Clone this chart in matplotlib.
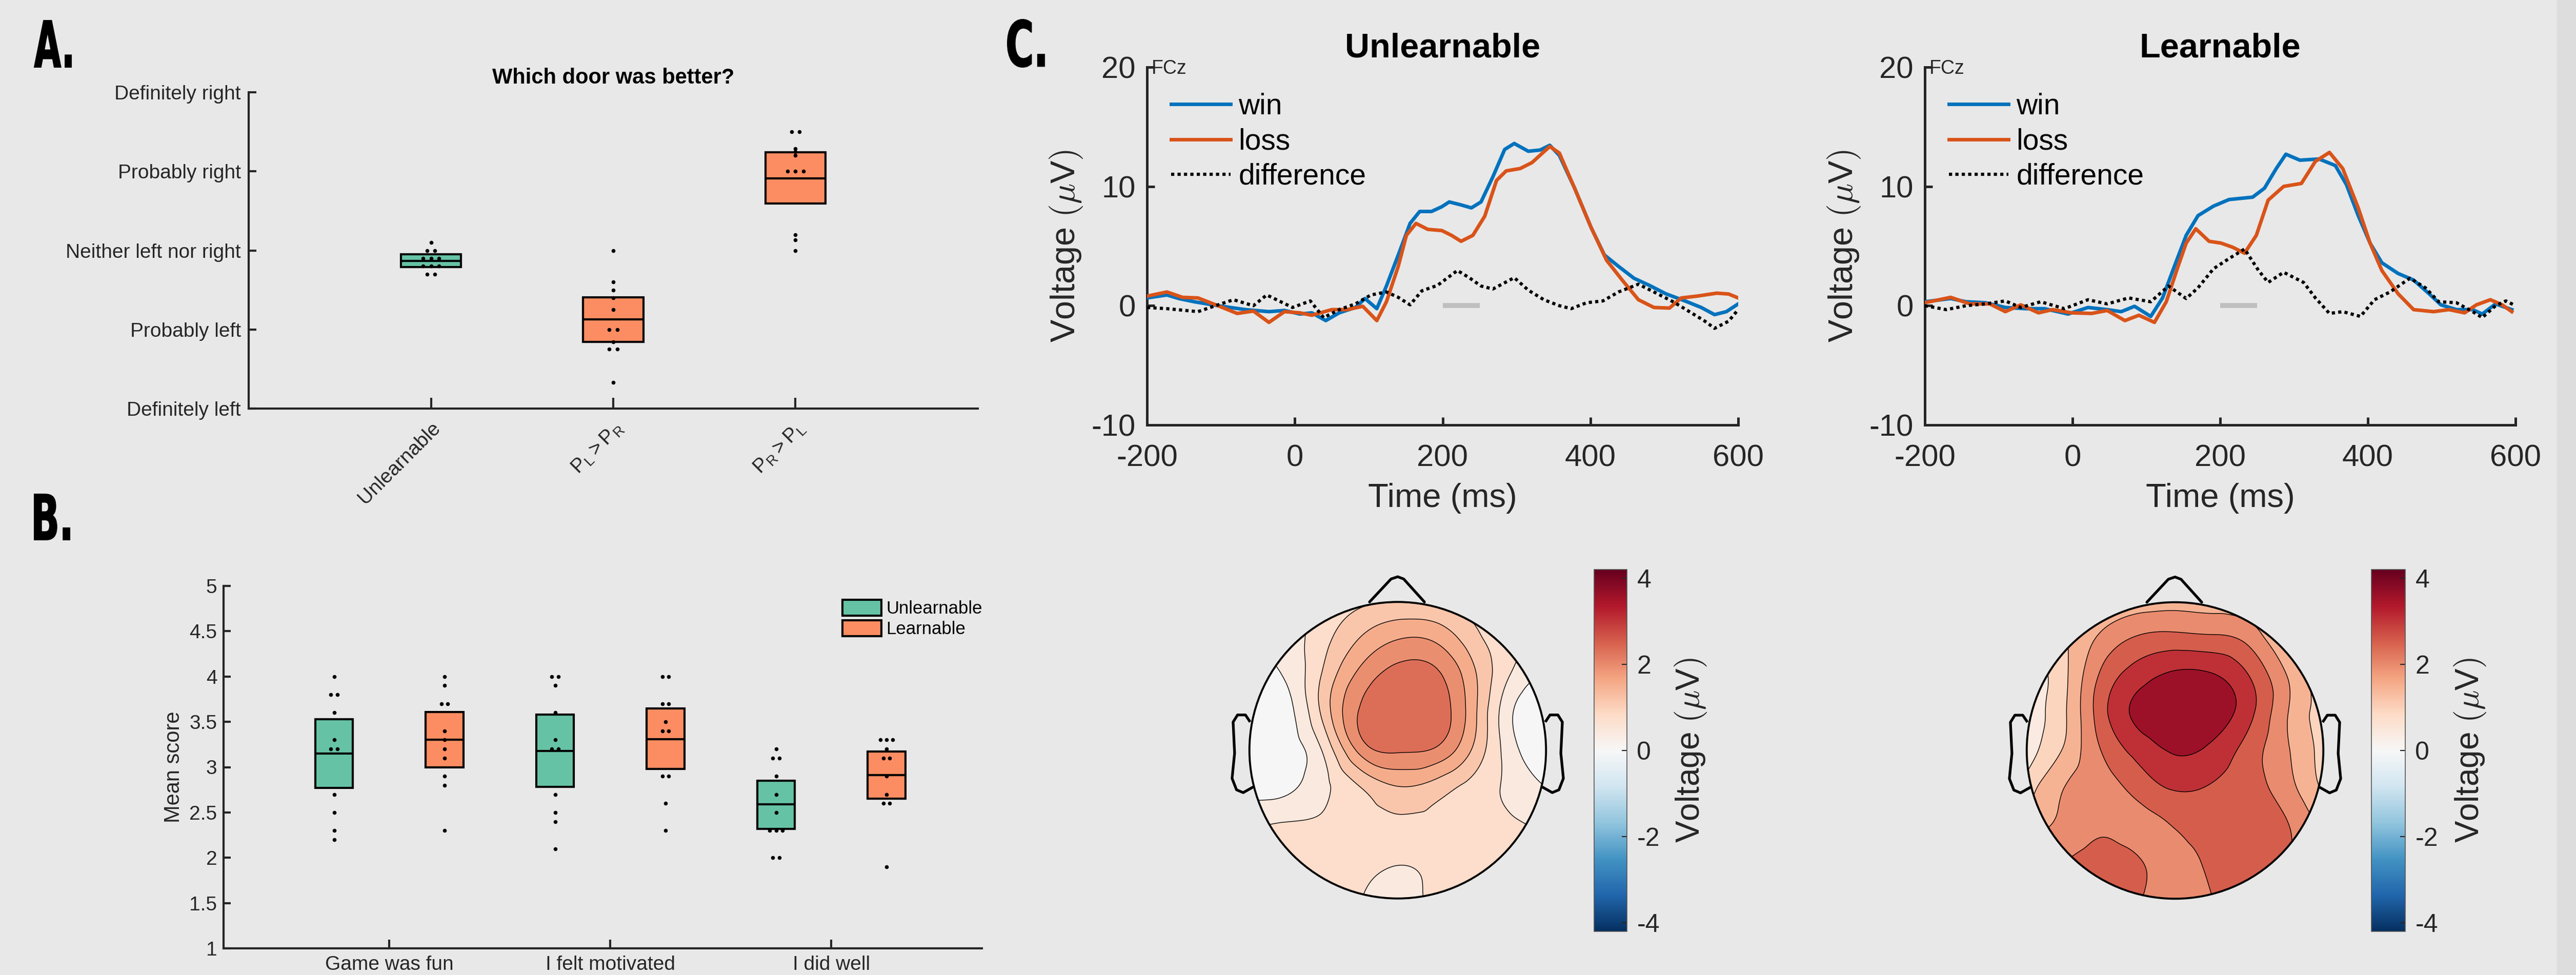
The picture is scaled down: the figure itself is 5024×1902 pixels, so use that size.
import numpy as np
import matplotlib
matplotlib.use('Agg')
import matplotlib.pyplot as plt
from matplotlib.tri import Triangulation, UniformTriRefiner
from matplotlib.patches import Circle, Rectangle, Patch, PathPatch
from matplotlib.colors import Normalize
from matplotlib.cm import ScalarMappable
from matplotlib.textpath import TextPath
from matplotlib.font_manager import FontProperties
from matplotlib.transforms import Affine2D

W, H = 5024, 1902
plt.rcParams['font.family'] = ['Liberation Sans', 'DejaVu Sans']
plt.rcParams['mathtext.fontset'] = 'cm'
plt.rcParams['axes.unicode_minus'] = False

BG = '#e8e8e8'
INK = '#262626'
TEAL = '#66c2a5'
ORANGE = '#fc8d62'
WIN_C = '#0072bd'
LOSS_C = '#d95319'

# ---------------- panel A : which door was better ----------------
catA = ['Unlearnable', r'$\mathregular{P_L > P_R}$', r'$\mathregular{P_R > P_L}$']
ytickA = ['Definitely left', 'Probably left', 'Neither left nor right', 'Probably right', 'Definitely right']
meanA = [2.87, 2.13, 3.91]
loA = [2.79, 1.84, 3.59]
hiA = [2.95, 2.41, 4.24]
dotsA = [
    [3.1, 3.0, 3.0, 2.9, 2.9, 2.9, 2.8, 2.8, 2.8, 2.7, 2.7],
    [3.0, 2.6, 2.5, 2.4, 2.25, 2.0, 2.0, 1.84, 1.75, 1.75, 1.33],
    [4.5, 4.5, 4.29, 4.25, 4.2, 4.0, 4.0, 4.0, 3.2, 3.13, 3.0],
]

# ---------------- panel B : questionnaire ----------------
catB = ['Game was fun', 'I felt motivated', 'I did well']
meanB_unl = [3.15, 3.18, 2.59]
loB_unl = [2.77, 2.78, 2.32]
hiB_unl = [3.53, 3.58, 2.85]
meanB_lrn = [3.30, 3.31, 2.91]
loB_lrn = [3.00, 2.98, 2.65]
hiB_lrn = [3.61, 3.65, 3.17]
dotsB_unl = [
    [4.0, 3.8, 3.8, 3.6, 3.3, 3.2, 3.2, 2.7, 2.5, 2.3, 2.2],
    [4.0, 4.0, 3.9, 3.6, 3.3, 3.2, 3.2, 2.7, 2.5, 2.4, 2.1],
    [3.2, 3.1, 3.1, 2.9, 2.7, 2.5, 2.3, 2.3, 2.3, 2.0, 2.0],
]
dotsB_lrn = [
    [4.0, 3.9, 3.7, 3.7, 3.4, 3.3, 3.2, 3.1, 2.9, 2.8, 2.3],
    [4.0, 4.0, 3.7, 3.7, 3.5, 3.4, 3.4, 2.9, 2.9, 2.6, 2.3],
    [3.3, 3.3, 3.3, 3.2, 3.1, 3.1, 2.9, 2.7, 2.6, 2.6, 1.9],
]

# ---------------- panel C : ERPs at FCz ----------------
unl_win_t = [-200, -173, -157, -136, -104, -67, -35, -14, 7, 23, 42, 60, 82, 95, 111, 124, 140, 156, 169, 185,
             199, 209, 225, 239, 252, 268, 284, 297, 316, 332, 345, 358, 379, 401, 419, 438, 459, 480, 502, 528,
             550, 568, 584, 600]
unl_win_v = [0.65, 0.9, 0.6, 0.33, 0, -0.33, -0.5, -0.4, -0.7, -0.6, -1.25, -0.6, -0.15, 0.6, -0.25, 1.65, 4.25,
             6.9, 7.9, 7.9, 8.3, 8.7, 8.45, 8.2, 8.7, 10.8, 13.1, 13.6, 12.95, 13.05, 13.45, 12.6, 9.8, 6.55, 4.25,
             3.3, 2.3, 1.7, 1.0, 0.4, -0.15, -0.75, -0.5, 0.15]
unl_loss_t = [-200, -173, -152, -131, -104, -78, -56, -35, -14, 7, 23, 50, 71, 92, 111, 124, 140, 151, 164, 180,
              199, 212, 225, 241, 257, 273, 286, 305, 321, 345, 358, 379, 401, 422, 443, 465, 486, 507, 523, 544,
              571, 587, 600]
unl_loss_v = [0.8, 1.15, 0.7, 0.65, 0, -0.65, -0.45, -1.4, -0.5, -0.6, -0.8, -0.33, -0.33, -0.05, -1.25, 0.33,
              3.3, 5.9, 6.9, 6.4, 6.3, 5.9, 5.4, 5.9, 7.5, 10.5, 11.3, 11.5, 12.0, 13.35, 12.8, 9.8, 6.55, 3.8,
              2.15, 0.5, -0.15, -0.2, 0.65, 0.8, 1.05, 0.98, 0.65]
unl_diff_t = [-200, -173, -131, -104, -83, -56, -38, -19, -3, 21, 39, 60, 82, 103, 124, 140, 156, 172, 193, 220,
              236, 252, 268, 297, 316, 337, 358, 374, 395, 417, 438, 465, 486, 512, 534, 555, 568, 587, 600]
unl_diff_v = [-0.15, -0.25, -0.5, 0.07, 0.5, 0, 0.9, 0.33, -0.15, 0.4, -1.0, -0.33, 0.15, 0.9, 1.15, 0.7, 0.07,
              1.25, 1.7, 2.95, 2.35, 1.65, 1.4, 2.35, 1.3, 0.5, 0, -0.25, 0.25, 0.4, 1.15, 1.8, 1.15, 0.33, -0.5,
              -1.3, -1.9, -1.3, -0.33]

lrn_win_t = [-200, -165, -144, -118, -91, -64, -38, -6, 21, 47, 66, 84, 106, 122, 138, 154, 170, 191, 212, 244,
             260, 276, 289, 308, 334, 356, 371, 387, 403, 419, 441, 462, 483, 499, 520, 542, 555, 573, 595]
lrn_win_v = [0.33, 0.6, 0.33, 0.25, -0.15, -0.25, -0.25, -0.7, -0.15, -0.33, -0.5, -0.05, -0.9, 0.65, 3.3, 5.9,
             7.55, 8.35, 8.9, 9.1, 9.85, 11.5, 12.7, 12.2, 12.3, 11.75, 10.15, 7.55, 5.25, 3.6, 2.7, 2.15, 1.0,
             0.07, -0.33, -0.33, -0.7, 0.15, -0.33]
lrn_loss_t = [-200, -165, -139, -112, -91, -70, -46, -27, -1, 26, 47, 71, 90, 111, 127, 143, 154, 167, 185, 201,
              217, 233, 249, 265, 286, 310, 329, 348, 366, 387, 403, 419, 441, 462, 489, 510, 531, 547, 566, 582,
              595]
lrn_loss_v = [0.25, 0.7, 0.15, 0.15, -0.5, 0.07, -0.6, -0.33, -0.6, -0.65, -0.4, -1.25, -0.8, -1.4, 0.33, 3.3,
              5.25, 6.45, 5.4, 5.25, 4.9, 4.4, 5.9, 8.85, 10.0, 10.25, 12.1, 12.85, 11.5, 8.2, 5.25, 2.95, 1.0,
              -0.33, -0.5, -0.33, -0.6, 0.07, 0.5, 0.07, -0.5]
lrn_diff_t = [-200, -171, -144, -118, -91, -70, -43, -11, 21, 47, 76, 106, 130, 154, 170, 191, 212, 233, 252, 265,
              286, 313, 329, 348, 366, 390, 409, 430, 457, 478, 496, 520, 542, 555, 573, 587, 600]
lrn_diff_v = [0, -0.33, 0, 0.15, 0.4, -0.15, 0.33, -0.25, 0.5, 0.15, 0.65, 0.33, 1.65, 0.6, 1.5, 3.1, 3.95, 4.75,
              2.95, 1.95, 2.8, 1.95, 0.65, -0.65, -0.5, -0.9, 0.5, 1.15, 2.3, 1.5, 0.33, 0.25, -0.5, -1.0, 0, 0.4,
              0]
sig_window = [200, 250]

# ---------------- scalp maps (uV on a 9 x 9 grid, rows front -> back) ----------------
topo_x = [-1.0, -0.75, -0.5, -0.25, 0.0, 0.25, 0.5, 0.75, 1.0]
topo_y = [1.0, 0.75, 0.5, 0.25, 0.0, -0.25, -0.5, -0.75, -1.0]
topo_unl = [
    [0.3, 0.5, 0.7, 0.9, 1.0, 0.95, 0.85, 0.65, 0.4],
    [0.2, 0.4, 0.85, 1.4, 1.75, 1.7, 1.15, 0.7, 0.45],
    [0.0, 0.25, 1.05, 1.9, 2.3, 2.25, 1.5, 0.6, 0.1],
    [-0.1, 0.05, 1.1, 2.2, 2.42, 2.38, 1.55, 0.3, -0.1],
    [-0.1, 0.0, 0.65, 1.9, 2.2, 2.1, 1.35, 0.4, -0.1],
    [0.05, 0.1, 0.5, 0.98, 1.35, 1.2, 0.85, 0.5, 0.2],
    [0.55, 0.62, 0.65, 0.8, 0.9, 0.88, 0.8, 0.68, 0.5],
    [0.7, 0.75, 0.78, 0.72, 0.62, 0.7, 0.88, 0.95, 0.8],
    [0.75, 0.8, 0.8, 0.6, 0.42, 0.72, 1.05, 1.1, 0.9],
]
topo_lrn = [
    [0.9, 1.1, 1.3, 1.45, 1.55, 1.5, 1.4, 1.2, 1.0],
    [0.7, 1.1, 1.85, 2.35, 2.47, 2.4, 2.1, 1.2, 0.8],
    [0.3, 1.05, 2.35, 3.1, 3.45, 3.4, 2.8, 1.75, 0.9],
    [0.4, 1.1, 2.55, 3.45, 3.65, 3.6, 2.95, 1.78, 0.95],
    [0.4, 1.25, 2.26, 3.0, 3.38, 3.2, 2.55, 1.8, 1.0],
    [0.9, 1.72, 2.05, 2.45, 2.85, 2.75, 2.5, 1.95, 1.1],
    [1.5, 1.85, 2.15, 2.1, 2.3, 2.55, 2.6, 2.3, 1.6],
    [1.9, 2.25, 2.45, 2.3, 2.1, 2.4, 2.6, 2.3, 2.0],
    [2.0, 2.3, 2.5, 2.3, 2.0, 2.25, 2.6, 2.4, 2.1],
]
lev_unl = [0.2, 0.59, 0.98, 1.37, 1.76, 2.15]
lev_lrn = [0.655, 1.19, 1.725, 2.26, 2.795, 3.33]
clim = 4.2
cbar_ticks = [-4, -2, 0, 2, 4]

# head outline pieces, in head radii
nose = ([-0.19, -0.045, 0.0, 0.04, 0.18], [1.0, 1.155, 1.17, 1.155, 1.0])
ear_x = [-1.0, -1.027, -1.08, -1.11, -1.1, -1.117, -1.087, -1.042, -0.982]
ear_y = [0.198, 0.238, 0.238, 0.19, -0.02, -0.19, -0.267, -0.286, -0.252]


def px(l, t, r, b):
    return [l / W, 1 - b / H, (r - l) / W, (b - t) / H]


def spread(vals, center, step):
    vals = np.asarray(vals, dtype=float)
    xs = np.full(len(vals), float(center))
    for v in np.unique(vals):
        idx = np.where(vals == v)[0]
        xs[idx] = center + (np.arange(len(idx)) - (len(idx) - 1) / 2) * step
    return xs


def matlab_axes(ax, lw):
    ax.set_facecolor('none')
    for s in ['top', 'right']:
        ax.spines[s].set_visible(False)
    for s in ['left', 'bottom']:
        ax.spines[s].set_linewidth(lw)
        ax.spines[s].set_color(INK)
    ax.tick_params(direction='in', colors=INK, width=lw)


def box(ax, x, m, lo, hi, w, color, dots, step):
    ax.bar(x, hi - lo, bottom=lo, width=w, color=color, edgecolor='k', linewidth=3, zorder=2)
    ax.plot([x - w / 2, x + w / 2], [m, m], color='k', lw=3, zorder=3, solid_capstyle='butt')
    ax.plot(spread(dots, x, step), dots, 'o', ms=5.5, color='k', mec='none', zorder=4)


fig = plt.figure(figsize=(W / 100, H / 100), dpi=100, facecolor=BG)
fig.patches.append(Rectangle((4987 / W, 0), (W - 4987) / W, 1, transform=fig.transFigure,
                             color='#dddddd', zorder=-1))

# condensed heavy panel letters
label_fp = FontProperties(family='DejaVu Sans', weight='bold')


def panel_label(s, left, top, width, height):
    tp = TextPath((0, 0), s, size=100, prop=label_fp)
    ext = tp.get_extents()
    tr = (Affine2D().translate(-ext.x0, -ext.y0)
          .scale(width / ext.width / W, height / ext.height / H)
          .translate(left / W, 1 - (top + height) / H))
    fig.patches.append(PathPatch(tr.transform_path(tp), transform=fig.transFigure,
                                 facecolor='k', edgecolor='k', lw=1.5))


panel_label('A.', 67, 40, 72, 91)
panel_label('B.', 67, 964, 69, 89)
panel_label('C.', 1965, 38, 72, 93)

# ---- A ----
axA = fig.add_axes(px(485, 180, 1907, 797))
matlab_axes(axA, 3)
for i in range(3):
    box(axA, i + 1, meanA[i], loA[i], hiA[i], 0.33, TEAL if i == 0 else ORANGE, dotsA[i], 0.045)
axA.set_xlim(0, 4)
axA.set_ylim(1, 5)
axA.set_yticks([1, 2, 3, 4, 5])
axA.set_yticklabels(ytickA)
axA.set_xticks([1, 2, 3])
axA.set_xticklabels(catA, rotation=45, ha='right', rotation_mode='anchor')
axA.tick_params(axis='y', length=11, pad=11, labelsize=28)
axA.tick_params(axis='x', length=15, pad=14, labelsize=28)
axA.set_title('Which door was better?', fontsize=30, fontweight='bold', pad=12)

# ---- B ----
axB = fig.add_axes(px(436, 1143, 1915, 1850))
matlab_axes(axB, 3)
for j in range(3):
    box(axB, j + 0.75, meanB_unl[j], loB_unl[j], hiB_unl[j], 0.17, TEAL, dotsB_unl[j], 0.028)
    box(axB, j + 1.25, meanB_lrn[j], loB_lrn[j], hiB_lrn[j], 0.17, ORANGE, dotsB_lrn[j], 0.028)
axB.set_xlim(0.25, 0.25 + 1479 / 431)
axB.set_ylim(1, 5)
axB.set_yticks(np.arange(1, 5.01, 0.5))
axB.set_yticklabels(['1', '1.5', '2', '2.5', '3', '3.5', '4', '4.5', '5'])
axB.set_xticks([1, 2, 3])
axB.set_xticklabels(catB)
axB.tick_params(axis='y', length=10, pad=9, labelsize=28)
axB.tick_params(axis='x', length=12, pad=10, labelsize=28)
axB.set_ylabel('Mean score', fontsize=30, color=INK)
axB.yaxis.set_label_coords(-0.052, 0.5)
axB.legend(handles=[Patch(facecolor=TEAL, edgecolor='k', lw=3), Patch(facecolor=ORANGE, edgecolor='k', lw=3)],
           labels=['Unlearnable', 'Learnable'], loc='upper left', bbox_to_anchor=(0.816, 0.962),
           frameon=False, fontsize=25, handlelength=2.2, handleheight=1.0, handletextpad=0.25,
           labelspacing=0.15, borderpad=0, borderaxespad=0)


# ---- C : ERPs ----
def draw_erp(rect, title, wt, wv, lt, lv, dt, dv):
    ax = fig.add_axes(rect)
    matlab_axes(ax, 3.6)
    ax.plot(wt, wv, color=WIN_C, lw=5, label='win', zorder=3)
    ax.plot(lt, lv, color=LOSS_C, lw=5, label='loss', zorder=3)
    ax.plot(dt, dv, color='k', lw=4.5, ls=(0, (1, 1)), label='difference', zorder=4)
    ax.plot(sig_window, [0, 0], color='#bfbfbf', lw=7, solid_capstyle='butt', zorder=2)
    ax.set_xlim(-200, 600)
    ax.set_ylim(-10, 20)
    ax.set_xticks([-200, 0, 200, 400, 600])
    ax.set_yticks([-10, 0, 10, 20])
    ax.tick_params(labelsize=43, length=11)
    ax.tick_params(axis='y', pad=16)
    ax.tick_params(axis='x', pad=27)
    ax.set_xlabel('Time (ms)', fontsize=47, color=INK)
    ax.xaxis.set_label_coords(0.5, -0.162)
    ax.set_ylabel(r'Voltage $(\mu$V$)$', fontsize=48, color=INK)
    ax.yaxis.set_label_coords(-0.106, 0.5)
    ax.set_title(title, fontsize=48, fontweight='bold', pad=14)
    ax.text(0.008, 0.996, 'FCz', transform=ax.transAxes, fontsize=27, va='center', ha='left', color=INK)
    ax.legend(loc='upper left', bbox_to_anchor=(0.041, 0.928), frameon=False, fontsize=41,
              handlelength=2.04, handletextpad=0.26, labelspacing=0.25, borderpad=0, borderaxespad=0)
    return ax


draw_erp(px(2237, 131, 3390, 829), 'Unlearnable', unl_win_t, unl_win_v, unl_loss_t, unl_loss_v,
         unl_diff_t, unl_diff_v)
draw_erp(px(3754, 131, 4906, 829), 'Learnable', lrn_win_t, lrn_win_v, lrn_loss_t, lrn_loss_v,
         lrn_diff_t, lrn_diff_v)

# ---- C : scalp maps ----
cmap = plt.get_cmap('RdBu_r')
norm = Normalize(-clim, clim)
X, Y = np.meshgrid(topo_x, topo_y)
tri = Triangulation(X.ravel(), Y.ravel())
refiner = UniformTriRefiner(tri)


def draw_topo(rect, grid, inner, cbar_rect, label_x):
    ax = fig.add_axes(rect)
    ax.set_xlim(-1.3, 1.3)
    ax.set_ylim(-1.3, 1.3)
    ax.set_aspect('equal')
    ax.axis('off')
    tri_f, z_f = refiner.refine_field(np.asarray(grid, dtype=float).ravel(), subdiv=4)
    step = inner[1] - inner[0]
    mids = [inner[0] - step / 2] + [(a + b) / 2 for a, b in zip(inner[:-1], inner[1:])] + [inner[-1] + step / 2]
    head = Circle((0, 0), 1.0, transform=ax.transData, facecolor='none', edgecolor='k', lw=2.8, zorder=5)
    cf = ax.tricontourf(tri_f, z_f, levels=[-50] + list(inner) + [50], colors=[cmap(norm(m)) for m in mids])
    cf.set_clip_path(head)
    cl = ax.tricontour(tri_f, z_f, levels=inner, colors='k', linewidths=1.0)
    cl.set_clip_path(head)
    ax.add_patch(head)
    ax.plot(*nose, color='k', lw=3.8, solid_capstyle='round', solid_joinstyle='round', clip_on=False)
    ax.plot(ear_x, ear_y, color='k', lw=3.8, solid_joinstyle='round', clip_on=False)
    ax.plot([-v for v in ear_x], ear_y, color='k', lw=3.8, solid_joinstyle='round', clip_on=False)

    cax = fig.add_axes(cbar_rect)
    cb = fig.colorbar(ScalarMappable(norm=norm, cmap=cmap), cax=cax, ticks=cbar_ticks)
    cb.outline.set_linewidth(1.2)
    cb.outline.set_edgecolor('#555555')
    cb.ax.tick_params(direction='in', length=7, width=1.5, labelsize=36, pad=14, colors=INK)
    fig.text(label_x / W, 1 - 1464 / H, r'Voltage $(\mu$V$)$', rotation=90, ha='center', va='center',
             fontsize=46, color=INK)


draw_topo(px(2350, 1087.5, 3102, 1839.5), topo_unl, lev_unl, px(3109, 1111, 3173, 1817), 3298)
draw_topo(px(3866, 1088, 4618, 1840), topo_lrn, lev_lrn, px(4625, 1111, 4691, 1817), 4818)

fig.savefig('out.png', dpi=100, facecolor=BG)
